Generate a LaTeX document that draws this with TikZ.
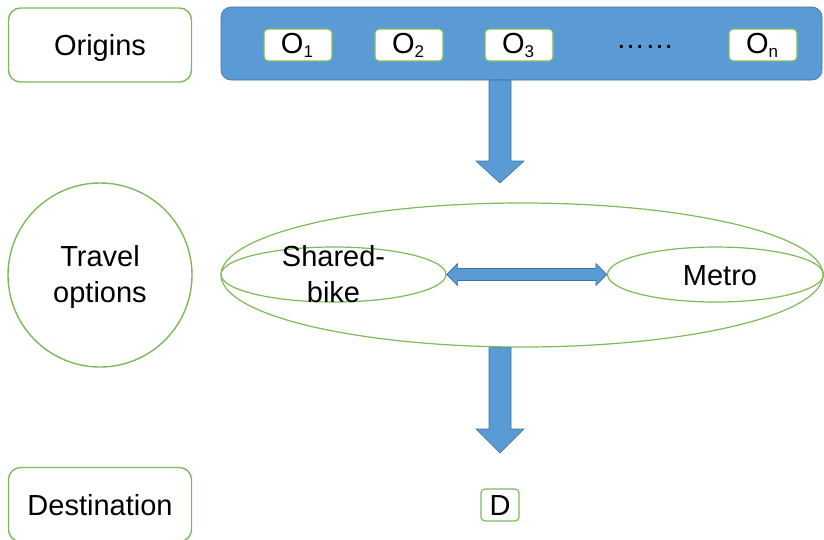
\documentclass[tikz,border=0pt]{standalone}
\usepackage{fontspec}
\setmainfont{Liberation Sans}
\usetikzlibrary{shapes.geometric,calc}
\definecolor{lgreen}{RGB}{125,186,88}
\definecolor{bfill}{RGB}{91,155,213}
\definecolor{bline}{RGB}{65,113,156}
\tikzset{
  lbl/.style={font=\fontsize{29}{36}\selectfont, text=black, inner sep=0pt},
  sidebox/.style={draw=lgreen, line width=1.4pt, rounded corners=12pt, fill=white,
                  minimum width=183pt, minimum height=74pt, inner sep=0pt},
  obox/.style={draw=lgreen, line width=1.2pt, rounded corners=4pt, fill=white,
               minimum width=68pt, minimum height=32pt, inner sep=0pt},
  ell/.style={ellipse, draw=lgreen, line width=1.2pt, inner sep=0pt},
  barrow/.style={fill=bfill, draw=bline, line width=0.6pt, line join=miter},
}
\newcommand{\Osub}[1]{O\raisebox{-4pt}{\fontsize{17}{17}\selectfont #1}}
\begin{document}
\begin{tikzpicture}[x=1pt,y=-1pt]
\useasboundingbox (0,0) rectangle (824,539);

% left column
\node[sidebox] (orig) at (100,45) {};
\node[lbl, anchor=base] (origt) at (100,55) {Origins};
\node[circle, draw=lgreen, line width=1.4pt, minimum size=184pt, inner sep=0pt] (trav) at (100,275) {};
\node[lbl, align=center] (travt) at (100,277) {Travel\\options};
\node[sidebox] (dest) at (100,504.5) {};
\node[lbl, anchor=base] (destt) at (100,515) {Destination};

% origins bar
\draw[fill=bfill, draw=bline, line width=0.6pt, rounded corners=10pt] (221,7) rectangle (822,80);
\coordinate (bar) at (500,80);
\node[obox] (o1) at (298,45) {};
\node[lbl, anchor=base] at (297,53) {\Osub{1}};
\node[obox] (o2) at (409,45) {};
\node[lbl, anchor=base] at (408,53) {\Osub{2}};
\node[obox] (o3) at (519,45) {};
\node[lbl, anchor=base] at (518,53) {\Osub{3}};
\node[lbl, anchor=base] (dots) at (645,48) {……};
\node[obox] (on) at (763,45) {};
\node[lbl, anchor=base] at (762,53) {\Osub{n}};

% travel options
\node[ell, minimum width=602pt, minimum height=144pt] (opts) at (522,275) {};
\node[ell, minimum width=225pt, minimum height=55pt] (sb) at (333.5,274.5) {};
\node[lbl, align=center] (sbt) at (333.5,274.5) {Shared-\\bike};
\node[ell, minimum width=216pt, minimum height=55pt] (metro) at (715.5,274.5) {};
\node[lbl, anchor=base] (metrot) at (720,285) {Metro};

% destination
\node[obox, minimum width=38pt, minimum height=32pt] (d) at (500,505) {};
\node[lbl, anchor=base] (dt) at (500,515) {D};

% arrow 1
\coordinate (e1) at (500,183);
\draw[barrow] ($(bar)+(-11,0)$) -- ($(bar)+(11,0)$) -- ($(e1)+(11,-22)$) -- ($(e1)+(24,-22)$)
   -- (e1) -- ($(e1)+(-24,-22)$) -- ($(e1)+(-11,-22)$) -- cycle;

% arrow 2
\coordinate (s2) at (opts.south -| d.north);
\coordinate (e2) at (500,453);
\draw[barrow] ($(s2)+(-11,0)$) -- ($(s2)+(11,0)$) -- ($(e2)+(11,-24)$) -- ($(e2)+(24,-24)$)
   -- (e2) -- ($(e2)+(-24,-24)$) -- ($(e2)+(-11,-24)$) -- cycle;

% double arrow
\coordinate (l) at (sb.east);
\coordinate (r) at (metro.west);
\draw[barrow] (l) -- ($(l)+(11,-11)$) -- ($(l)+(11,-6)$) -- ($(r)+(-11,-6)$) -- ($(r)+(-11,-11)$)
   -- (r) -- ($(r)+(-11,11)$) -- ($(r)+(-11,6)$) -- ($(l)+(11,6)$) -- ($(l)+(11,11)$) -- cycle;
\end{tikzpicture}
\end{document}
